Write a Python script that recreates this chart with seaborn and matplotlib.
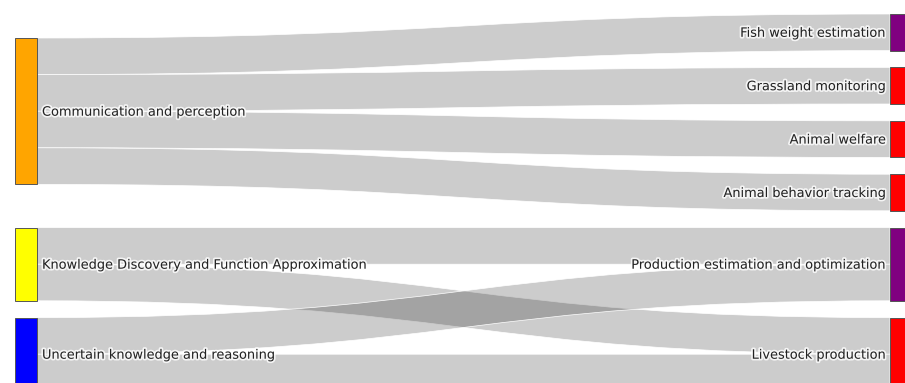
import numpy as np
import matplotlib.pyplot as plt
import seaborn as sns
from matplotlib.path import Path
from matplotlib.patches import PathPatch, Rectangle
import matplotlib.patheffects as pe

# Nodes of the sankey
node_labels = [
    "Communication and perception",
    "Knowledge Discovery and Function Approximation",
    "Uncertain knowledge and reasoning",
    "Fish weight estimation",
    "Grassland monitoring",
    "Animal welfare",
    "Animal behavior tracking",
    "Production estimation and optimization",
    "Livestock production",
]
node_colors = ["orange", "yellow", "blue", "purple", "red", "red", "red", "purple", "red"]
node_column = [0, 0, 0, 1, 1, 1, 1, 1, 1]

# Links (source index, target index, value)
link_source = [0, 0, 0, 0, 1, 1, 2, 2]
link_target = [3, 4, 5, 6, 7, 8, 7, 8]
link_value = [1, 1, 1, 1, 1, 1, 1, 1]

# layout (pixels)
W, H = 905, 383
unit = 36.6
pad = 16.8
node_w = 22
col_x = [15, 890]
left_tops = [38, 227.6, 317.6]

sns.set_theme(style="white")
plt.rcParams['font.family'] = ['DejaVu Sans']

n = len(node_labels)
# node heights: max of in/out flow
out_v = np.zeros(n)
in_v = np.zeros(n)
for s, t, v in zip(link_source, link_target, link_value):
    out_v[s] += v
    in_v[t] += v
height = np.maximum(out_v, in_v) * unit

top = np.zeros(n)
li = 0
y = 14.0
for i in range(n):
    if node_column[i] == 0:
        top[i] = left_tops[li]
        li += 1
    else:
        top[i] = y
        y += height[i] + pad

fig = plt.figure(figsize=(W / 100, H / 100), dpi=100)
ax = fig.add_axes([0, 0, 1, 1])
ax.set_xlim(0, W)
ax.set_ylim(H, 0)
ax.axis("off")

# stacking of links inside each node
src_off = top.copy()
tgt_off = top.copy()
order = sorted(range(len(link_source)),
               key=lambda k: (link_source[k], top[link_target[k]]))
src_pos = {}
for k in order:
    s = link_source[k]
    src_pos[k] = src_off[s]
    src_off[s] += link_value[k] * unit
order = sorted(range(len(link_source)),
               key=lambda k: (link_target[k], top[link_source[k]]))
tgt_pos = {}
for k in order:
    t = link_target[k]
    tgt_pos[k] = tgt_off[t]
    tgt_off[t] += link_value[k] * unit

x0 = col_x[0] + node_w
x1 = col_x[1]
xm = (x0 + x1) / 2
for k in range(len(link_source)):
    h = link_value[k] * unit
    a, b = src_pos[k], tgt_pos[k]
    verts = [(x0, a), (xm, a), (xm, b), (x1, b),
             (x1, b + h), (xm, b + h), (xm, a + h), (x0, a + h), (x0, a)]
    codes = [Path.MOVETO, Path.CURVE4, Path.CURVE4, Path.CURVE4,
             Path.LINETO, Path.CURVE4, Path.CURVE4, Path.CURVE4, Path.CLOSEPOLY]
    ax.add_patch(PathPatch(Path(verts, codes), facecolor=(0, 0, 0, 0.2),
                           edgecolor="white", linewidth=0.5, zorder=1))

halo = [pe.withStroke(linewidth=2.5, foreground="white", alpha=0.8)]
for i in range(n):
    cx = col_x[node_column[i]]
    ax.add_patch(Rectangle((cx, top[i]), node_w, height[i], facecolor=node_colors[i],
                           edgecolor="#555555", linewidth=0.7, zorder=2))
    yc = top[i] + height[i] / 2 + 1
    if node_column[i] == 0:
        ax.text(cx + node_w + 5, yc, node_labels[i], ha="left", va="center",
                fontsize=9.3, color="#222222", path_effects=halo, zorder=3)
    else:
        ax.text(cx - 4, yc, node_labels[i], ha="right", va="center",
                fontsize=9.3, color="#222222", path_effects=halo, zorder=3)

fig.savefig("out.png", dpi=100)
